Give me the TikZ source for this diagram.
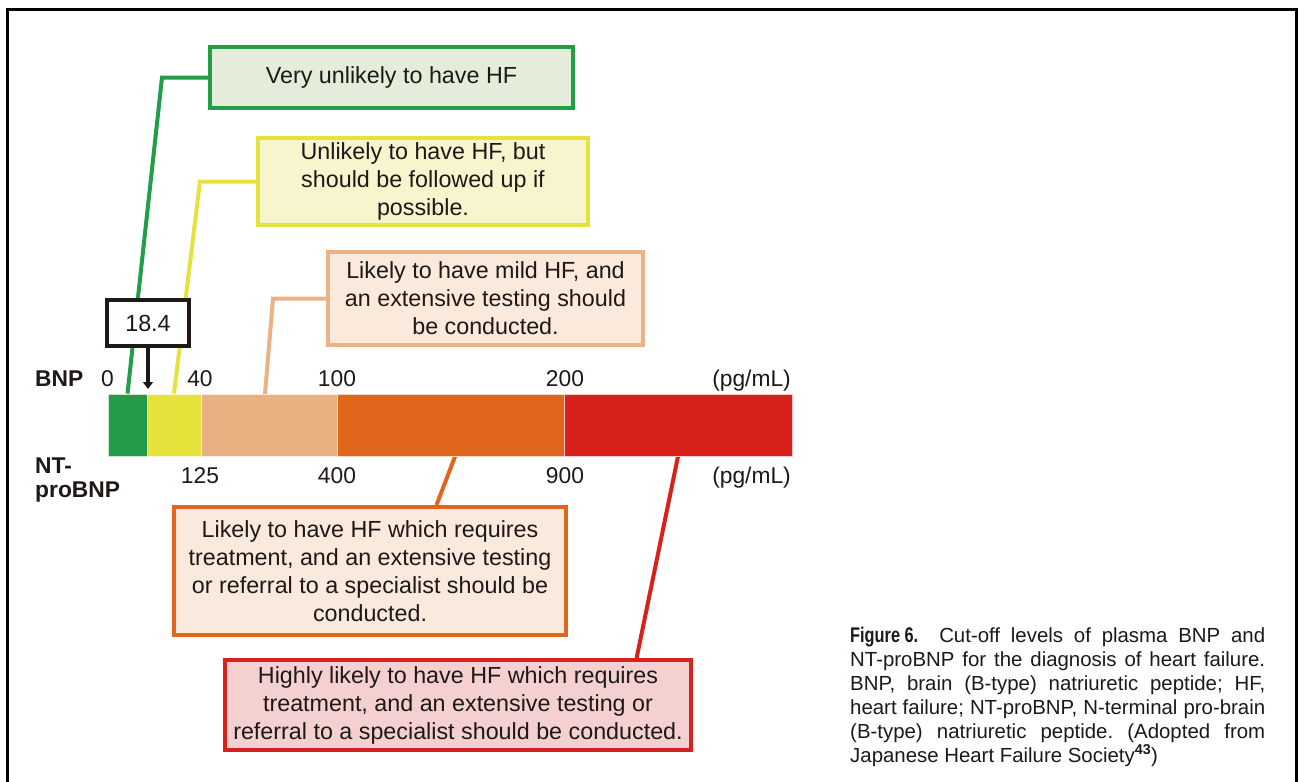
\documentclass[tikz,border=0pt]{standalone}
\usepackage{fontspec}
\setmainfont{Liberation Sans}
\usetikzlibrary{arrows.meta,backgrounds,calc}

% line / fill colours of the five ranges
\definecolor{gLine}{RGB}{34,158,72}
\definecolor{gFill}{RGB}{227,237,217}
\definecolor{yLine}{RGB}{230,226,60}
\definecolor{yFill}{RGB}{246,245,206}
\definecolor{pLine}{RGB}{234,178,134}
\definecolor{pFill}{RGB}{251,234,220}
\definecolor{oLine}{RGB}{224,102,27}
\definecolor{oFill}{RGB}{250,233,221}
\definecolor{rLine}{RGB}{216,32,29}
\definecolor{rFill}{RGB}{245,208,209}
\definecolor{gBar}{RGB}{36,155,72}
\definecolor{yBar}{RGB}{230,226,60}
\definecolor{pBar}{RGB}{233,176,130}
\definecolor{oBar}{RGB}{224,102,27}
\definecolor{rBar}{RGB}{216,32,29}
\definecolor{ink}{RGB}{30,24,22}

\frenchspacing

\begin{document}
\begin{tikzpicture}[x=1pt,y=-1pt,
  font=\fontsize{23.3}{28}\selectfont,
  msgbox/.style={draw, line width=4pt, align=center, inner sep=0pt, text=ink},
  seg/.style={draw=white!75!#1, fill=#1, line width=0.8pt, inner sep=0pt, minimum height=62pt},
  link/.style={line width=4pt},
  scale lbl/.style={anchor=base, inner sep=0pt, text=ink, font=\fontsize{22.8}{26}\selectfont},
  axis name/.style={anchor=base west, inner sep=0pt, text=ink, font=\fontsize{22.8}{26}\selectfont\bfseries}]

\useasboundingbox (0,0) rectangle (1299,782);

% open frame
\draw[line width=3.2pt, black] (7.5,782) -- (7.5,9.5) -- (1296.5,9.5) -- (1296.5,782);

% the colour bar
\node[seg=gBar, minimum width=39pt]  (seg1) at (127.5,425) {};
\node[seg=yBar, minimum width=54pt]  (seg2) at (174,425) {};
\node[seg=pBar, minimum width=136pt] (seg3) at (269,425) {};
\node[seg=oBar, minimum width=227pt] (seg4) at (450.5,425) {};
\node[seg=rBar, minimum width=228pt] (seg5) at (678,425) {};

% scale labels
\node[axis name] (bnp) at (35,386) {BNP};
\node[scale lbl] (u0) at (107.5,386) {0};
\node[scale lbl] (u40) at (200,386) {40};
\node[scale lbl] (u100) at (337,386) {100};
\node[scale lbl] (u200) at (565,386) {200};
\node[scale lbl, anchor=base east] (uunit) at (791,386) {(pg/mL)};
\node[axis name] (nt1) at (35,473) {NT-};
\node[axis name] (nt2) at (35,497) {proBNP};
\node[scale lbl] (l125) at (200,483) {125};
\node[scale lbl] (l400) at (337,483) {400};
\node[scale lbl] (l900) at (565,483) {900};
\node[scale lbl, anchor=base east] (lunit) at (791,483) {(pg/mL)};

% message boxes
\node[msgbox, draw=gLine, fill=gFill, minimum width=363pt, minimum height=61pt] (b1) at (391.5,77.5)
  {Very unlikely to have HF};
\node[msgbox, draw=yLine, fill=yFill, minimum width=330pt, minimum height=87pt] (b2) at (423,181.5)
  {Unlikely to have HF, but\\ should be followed up if\\ possible.};
\node[msgbox, draw=pLine, fill=pFill, minimum width=315pt, minimum height=93pt] (b3) at (485.5,298.5)
  {Likely to have mild HF, and\\ an extensive testing should\\ be conducted.};
\node[msgbox, draw=oLine, fill=oFill, minimum width=392pt, minimum height=128pt] (b4) at (370,571)
  {Likely to have HF which requires\\ treatment, and an extensive testing\\ or referral to a specialist should be\\ conducted.};
\node[msgbox, draw=rLine, fill=rFill, minimum width=466pt, minimum height=90pt] (b5) at (458,705)
  {Highly likely to have HF which requires\\ treatment, and an extensive testing or\\ referral to a specialist should be conducted.};

% measured value marker
\node[draw=ink, line width=4pt, fill=white, text=ink, minimum width=82pt, minimum height=46pt, inner sep=0pt]
  (v184) at (148,323) {18.4};
\coordinate (tip) at (148,389);
\coordinate (pk) at (265,394);

% leader lines, kept behind the boxes
\begin{pgfonlayer}{background}
\draw[link, gLine] (b1.west) -- (162,77.5) -- (seg1.north);
\draw[link, yLine] (b2.west) -- (200,181.5) -- (seg2.north);
\draw[link, pLine] (b3.west) -- (273,298.5) -- (pk);
\draw[link, oLine] ($(b4.north west)!0.668!(b4.north east)$) -- ($(seg4.south west)!0.52!(seg4.south east)$);
\draw[link, rLine] ($(b5.north west)!0.88!(b5.north east)$) -- (seg5.south);
\end{pgfonlayer}
\draw[link, ink, -{Triangle[width=10pt,length=7pt]}] (v184.south) -- (tip);

% caption
\node[anchor=base west, inner sep=0pt, text=ink] (cap) at (850,642) {\parbox[t]{415pt}{%
  \fontsize{20.4}{24}\selectfont
  \makebox[415pt][s]{\scalebox{0.8}[1.04]{\bfseries Figure 6.}\hspace{0.5em} Cut-off levels of plasma BNP and}\\
  \makebox[415pt][s]{NT-proBNP for the diagnosis of heart failure.}\\
  \makebox[415pt][s]{BNP, brain (B-type) natriuretic peptide; HF,}\\
  \makebox[415pt][s]{heart failure; NT-proBNP, N-terminal pro-brain}\\
  \makebox[415pt][s]{(B-type) natriuretic peptide. (Adopted from}\\
  Japanese Heart Failure Society\textsuperscript{\bfseries 43})}};

\end{tikzpicture}
\end{document}
